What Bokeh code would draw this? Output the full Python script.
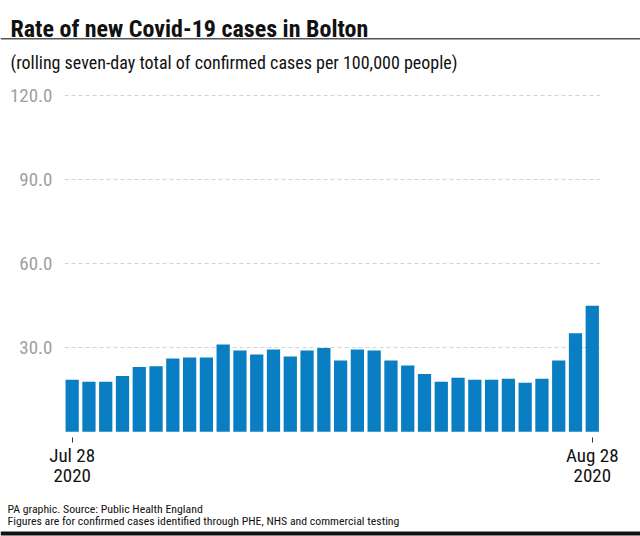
from bokeh.plotting import figure
from bokeh.models import (ColumnDataSource, FixedTicker, Range1d, Label, Span,
                          NumeralTickFormatter)
from bokeh.layouts import column
from bokeh.embed import file_html
from bokeh.resources import INLINE

# ---- data ----
dates = ["Jul 28", "Jul 29", "Jul 30", "Jul 31", "Aug 1", "Aug 2", "Aug 3", "Aug 4",
         "Aug 5", "Aug 6", "Aug 7", "Aug 8", "Aug 9", "Aug 10", "Aug 11", "Aug 12",
         "Aug 13", "Aug 14", "Aug 15", "Aug 16", "Aug 17", "Aug 18", "Aug 19", "Aug 20",
         "Aug 21", "Aug 22", "Aug 23", "Aug 24", "Aug 25", "Aug 26", "Aug 27", "Aug 28"]
rates = [18.6, 17.9, 17.9, 19.9, 23.1, 23.4, 26.2, 26.5, 26.5, 31.2, 29.0, 27.6,
         29.4, 26.9, 29.0, 29.9, 25.5, 29.4, 29.0, 25.5, 23.7, 20.6, 17.9, 19.3,
         18.6, 18.6, 18.9, 17.5, 18.9, 25.5, 35.2, 45.0]
y_ticks = [30, 60, 90, 120]
x_tick_labels = {0: "Jul 28\n2020", 31: "Aug 28\n2020"}

title_text = "Rate of new Covid-19 cases in Bolton"
subtitle_text = "(rolling seven-day total of confirmed cases per 100,000 people)"
footer1 = "PA graphic. Source: Public Health England"
footer2 = "Figures are for confirmed cases identified through PHE, NHS and commercial testing"

FONT = "'Liberation Sans Narrow', 'Roboto Condensed', Roboto, sans-serif"
BLUE = "#0a7ec2"


def blank(height):
    f = figure(width=640, height=height, output_backend="svg", toolbar_location=None,
               x_range=Range1d(0, 640), y_range=Range1d(height, 0),
               x_axis_type=None, y_axis_type=None, min_border=0)
    f.frame_align = False
    f.outline_line_color = None
    f.background_fill_color = "white"
    f.border_fill_color = "white"
    return f


# ---- header (canvas 0 .. 82) ----
H_HEAD = 82
head = blank(H_HEAD)
head.add_layout(Label(x=10, y=28.3, text=title_text, text_font=FONT,
                      text_font_size="24px", text_font_style="bold",
                      text_color="#111111", text_baseline="alphabetic"))
head.add_layout(Label(x=10, y=61.5, text=subtitle_text, text_font=FONT,
                      text_font_size="18px", text_color="#111111",
                      text_baseline="alphabetic"))
head.add_layout(Span(location=38.3, dimension="width", line_color="#555555", line_width=1.5))

# ---- chart (canvas 82 .. 494) ----
CHART_BOTTOM = 494
H_CHART = CHART_BOTTOM - H_HEAD
idx = list(range(len(dates)))
src = ColumnDataSource(dict(x=idx, top=rates, date=dates))

p = figure(width=640, height=H_CHART, output_backend="svg", toolbar_location=None,
           x_range=Range1d(-0.457, 31.49), y_range=Range1d(-2.04, 122.6),
           min_border_left=64, min_border_right=40, min_border_top=88 - H_HEAD,
           min_border_bottom=CHART_BOTTOM - 437)
p.frame_align = False
p.outline_line_color = None
p.background_fill_color = "white"
p.border_fill_color = "white"

p.vbar(x="x", top="top", bottom=0, width=0.79, source=src, color=BLUE, line_color=None)

yax = p.yaxis[0]
yax.ticker = FixedTicker(ticks=y_ticks)
yax.formatter = NumeralTickFormatter(format="0.0")
yax.axis_line_color = None
yax.major_tick_line_color = None
yax.minor_tick_line_color = None
yax.major_label_text_font = FONT
yax.major_label_text_font_size = "19px"
yax.major_label_text_color = "#a0a0a0"
yax.major_label_standoff = 6

xax = p.xaxis[0]
xax.ticker = FixedTicker(ticks=[0, 31])
xax.major_label_overrides = x_tick_labels
xax.axis_line_color = None
xax.minor_tick_line_color = None
xax.major_tick_line_color = "#333333"
xax.major_tick_in = 0
xax.major_tick_out = 5
xax.major_label_text_font = FONT
xax.major_label_text_font_size = "19px"
xax.major_label_text_color = "#111111"
xax.major_label_text_line_height = 0.9
xax.major_label_standoff = 1

p.xgrid.grid_line_color = None
p.ygrid.ticker = FixedTicker(ticks=y_ticks)
p.ygrid.grid_line_color = "#d4d4d4"
p.ygrid.grid_line_dash = "4 3"
p.ygrid.grid_line_width = 1

# ---- footer (canvas 494 .. 536) ----
H_FOOT = 536 - CHART_BOTTOM
foot = blank(H_FOOT)
foot.add_layout(Label(x=7, y=508 - CHART_BOTTOM, text=footer1, text_font=FONT,
                      text_font_size="11.8px", text_color="#111111",
                      text_baseline="alphabetic"))
foot.add_layout(Label(x=7, y=520 - CHART_BOTTOM, text=footer2, text_font=FONT,
                      text_font_size="11.8px", text_color="#111111",
                      text_baseline="alphabetic"))
foot.add_layout(Span(location=533 - CHART_BOTTOM, dimension="width",
                     line_color="#111111", line_width=4))

layout = column(head, p, foot, spacing=0)
open("out.html", "w").write(file_html(layout, INLINE))
